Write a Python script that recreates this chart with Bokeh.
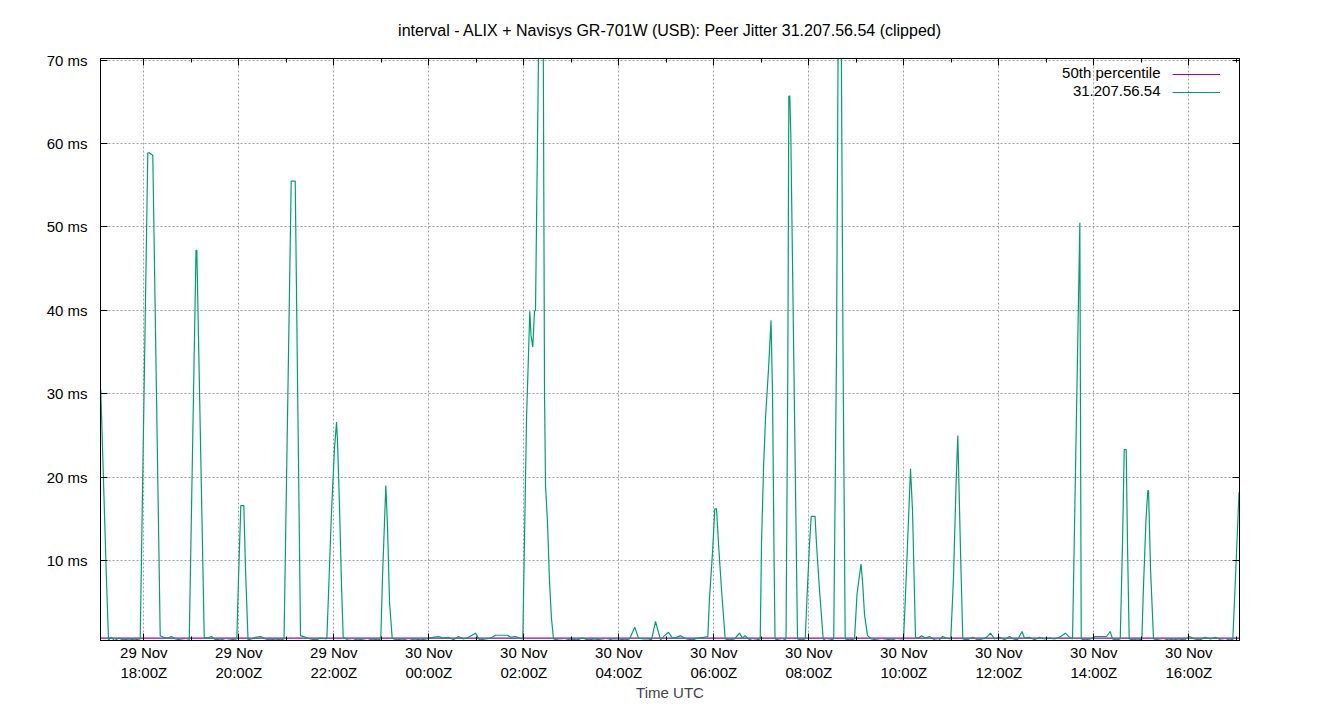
import pandas as pd
from bokeh.plotting import figure
from bokeh.models import (FixedTicker, PrintfTickFormatter, DatetimeTickFormatter,
                          Range1d, Legend, LegendItem, Label, LinearAxis, DatetimeAxis)
from bokeh.embed import file_html
from bokeh.resources import INLINE

# ---------------- data ----------------
base_day = "2019-11-29"          # hours below are counted from 29 Nov 00:00 UTC
window_start_h = 17.088
window_end_h = 41.067

hours = [
    17.093, 17.120, 17.162, 17.215, 17.257, 17.320, 17.383, 17.467, 17.573, 17.678, 17.804, 17.924,
    18.084, 18.114, 18.189, 18.345, 18.415, 18.499, 18.583, 18.667, 18.773, 18.878, 18.956,
    19.099, 19.116, 19.272, 19.341, 19.425, 19.509, 19.615, 19.720, 19.825, 19.958,
    19.994, 20.042, 20.105, 20.141, 20.194, 20.267, 20.352, 20.457, 20.562, 20.667, 20.773, 20.878, 20.952,
    21.103, 21.187, 21.299, 21.404, 21.509, 21.615, 21.720, 21.853,
    21.888, 21.952, 22.015, 22.057, 22.078, 22.120, 22.162, 22.198,
    22.288, 22.394, 22.499, 22.604, 22.709, 22.815, 22.920, 22.989,
    23.025, 23.095, 23.131, 23.173, 23.229,
    23.320, 23.446, 23.573, 23.699, 23.825, 23.952, 24.078, 24.204, 24.310, 24.415, 24.520, 24.625,
    24.731, 24.836, 24.983, 25.067, 25.194, 25.299, 25.404, 25.657, 25.720, 25.825, 25.909, 25.979,
    26.057, 26.126, 26.152, 26.189, 26.225, 26.246, 26.316, 26.408, 26.436, 26.457, 26.499, 26.541,
    26.583, 26.625,
    26.720, 26.857, 26.983, 27.109, 27.236, 27.362, 27.488, 27.615, 27.741, 27.867, 27.994, 28.120,
    28.225, 28.337, 28.415, 28.520, 28.625, 28.688, 28.773, 28.878, 28.962, 29.046, 29.131, 29.215,
    29.299, 29.425, 29.552, 29.657, 29.783, 29.874,
    29.909, 29.973, 30.021, 30.057, 30.099, 30.162, 30.240,
    30.331, 30.436, 30.541, 30.604, 30.657, 30.731, 30.815, 30.899, 30.977,
    31.004, 31.046, 31.088, 31.152, 31.204, 31.236, 31.268, 31.289,
    31.362, 31.446, 31.520,
    31.558, 31.579, 31.600, 31.621, 31.762,
    31.846, 31.924,
    31.973, 32.015, 32.051, 32.131, 32.162, 32.225, 32.303,
    32.373, 32.457, 32.524,
    32.583, 32.619, 32.682, 32.720, 32.766,
    32.857, 32.962,
    33.015, 33.099, 33.131, 33.173, 33.236,
    33.320, 33.425, 33.531, 33.636, 33.741, 33.846, 33.994,
    34.036, 34.141, 34.183, 34.246,
    34.309, 34.373, 34.457, 34.541, 34.646, 34.731, 34.815, 34.899, 34.989,
    35.046, 35.099, 35.137, 35.194, 35.242,
    35.341, 35.446, 35.552, 35.657, 35.741, 35.825, 35.909, 36.015, 36.120, 36.225, 36.309, 36.394,
    36.488, 36.541, 36.646, 36.752, 36.857, 36.962, 37.067, 37.173, 37.278, 37.404, 37.488, 37.552,
    37.706, 37.735,
    37.825, 37.931, 38.029, 38.267, 38.345, 38.394, 38.478, 38.556,
    38.604, 38.640, 38.682, 38.709, 38.745,
    38.836, 38.920, 39.011,
    39.046, 39.099, 39.137, 39.152, 39.194, 39.257,
    39.362, 39.467, 39.573, 39.678, 39.783, 39.910, 40.015, 40.120, 40.225, 40.352, 40.457, 40.562,
    40.667, 40.773, 40.857, 40.926,
    40.983, 41.057,
]

jitter_ms = [
    30.5, 25.5, 17.5, 7.5, 0.5, 0.8, 0.4, 0.7, 0.5, 0.6, 0.5, 0.6,
    58.9, 58.9, 58.6, 1.0, 0.8, 0.7, 0.9, 0.6, 0.5, 0.4, 0.5,
    47.2, 47.2, 0.8, 0.7, 0.9, 0.5, 0.6, 0.4, 0.5, 0.6,
    8.0, 16.6, 16.6, 9.0, 0.5, 0.6, 0.8, 0.9, 0.6, 0.5, 0.6, 0.5, 0.6,
    55.5, 55.5, 1.0, 0.8, 0.6, 0.5, 0.7, 0.6,
    6.0, 16.0, 23.5, 26.6, 24.3, 16.5, 7.0, 0.8,
    0.5, 0.4, 0.6, 0.5, 0.4, 0.6, 0.5, 0.6,
    8.0, 19.0, 14.0, 5.0, 0.7,
    0.5, 0.6, 0.4, 0.6, 0.5, 0.6, 0.8, 0.9, 0.7, 0.8, 0.5, 0.9,
    0.6, 0.8, 1.3, 0.5, 0.6, 0.7, 1.05, 1.05, 0.8, 0.9, 0.7, 0.6,
    27.0, 39.9, 37.0, 35.6, 39.9, 40.0, 74.0, 74.0, 30.0, 19.0, 14.5, 7.5,
    3.0, 0.6,
    0.5, 0.4, 0.6, 0.5, 0.7, 0.5, 0.6, 0.5, 0.4, 0.6, 0.6, 0.5,
    0.6, 2.0, 0.7, 0.6, 0.6, 0.5, 2.7, 0.5, 1.0, 1.4, 0.7, 0.8,
    1.0, 0.6, 0.5, 0.7, 0.8, 0.9,
    5.5, 11.0, 16.2, 16.2, 12.0, 6.5, 0.6,
    0.5, 0.6, 1.3, 0.7, 1.0, 0.6, 0.4, 0.5, 0.6,
    12.0, 21.0, 27.0, 33.0, 38.8, 30.0, 10.5, 0.6,
    0.5, 0.4, 0.6,
    33.0, 65.7, 65.7, 61.0, 0.6,
    0.5, 0.6,
    7.0, 12.0, 15.3, 15.3, 12.0, 6.5, 0.6,
    0.4, 0.5, 0.6,
    35.0, 74.0, 74.0, 35.0, 0.6,
    0.5, 0.6,
    6.0, 9.6, 7.5, 3.5, 1.0,
    0.6, 0.5, 0.4, 0.5, 0.6, 0.4, 0.5,
    6.0, 21.0, 16.0, 0.8,
    0.7, 1.0, 0.7, 0.9, 0.5, 0.4, 0.9, 0.7, 0.6,
    8.0, 19.0, 25.0, 11.0, 0.6,
    0.5, 0.8, 0.5, 0.6, 0.8, 1.3, 0.6, 0.8, 0.5, 0.9, 0.6, 0.5,
    1.5, 0.7, 0.8, 0.5, 0.8, 0.6, 0.7, 0.6, 0.8, 1.3, 0.8, 0.6,
    50.5, 0.6,
    0.5, 0.6, 0.9, 0.9, 1.5, 0.6, 0.5, 0.6,
    12.0, 23.3, 23.3, 12.0, 0.6,
    0.5, 0.6, 0.5,
    7.0, 15.0, 18.4, 18.4, 9.0, 0.6,
    0.5, 0.4, 0.6, 0.5, 0.6, 0.5, 0.9, 0.6, 0.5, 0.8, 0.6, 0.8,
    0.5, 0.4, 0.6, 0.5,
    8.0, 18.2,
]

p50_ms = 0.70
y_min_ms, y_max_ms = 0.42, 70.2
y_ticks_ms = [10, 20, 30, 40, 50, 60, 70]
major_tick_h = [18, 20, 22, 24, 26, 28, 30, 32, 34, 36, 38, 40]
minor_tick_h = [17, 19, 21, 23, 25, 27, 29, 31, 33, 35, 37, 39, 41]

title_text = "interval - ALIX + Navisys GR-701W (USB): Peer Jitter 31.207.56.54 (clipped)"
series_names = ["50th percentile", "31.207.56.54"]
series_colors = ["#9400d3", "#009e73"]

# ---------------- helpers ----------------
base = pd.Timestamp(base_day)


def to_dt(h_list):
    return [base + pd.Timedelta(hours=h) for h in h_list]


def to_ms(h_list):
    return [(base + pd.Timedelta(hours=h)).value / 1e6 for h in h_list]


t = to_dt(hours)
FONT = "Liberation Sans"

p = figure(width=1324, height=704, x_axis_type="datetime",
           x_range=Range1d(*to_ms([window_start_h, window_end_h])),
           y_range=Range1d(y_min_ms, y_max_ms),
           output_backend="svg", toolbar_location=None,
           min_border_left=100, min_border_right=85, min_border_top=58, min_border_bottom=64)

p.title.text = title_text
p.title.align = "center"
p.title.text_font = FONT
p.title.text_font_size = "16px"
p.title.text_font_style = "normal"
p.title.text_color = "#000000"
p.title.standoff = 39

p.outline_line_color = "black"
p.outline_line_width = 1
p.background_fill_color = "white"
p.border_fill_color = "white"

# lines
r_p50 = p.line(to_dt([window_start_h, window_end_h]), [p50_ms, p50_ms],
               line_color=series_colors[0], line_width=1.2)
r_jit = p.line(t, jitter_ms, line_color=series_colors[1], line_width=1.2)

bottom_ax = p.below[0]
left_ax = p.left[0]

# axes
xt = FixedTicker(ticks=to_ms(major_tick_h), minor_ticks=to_ms(minor_tick_h))
yt = FixedTicker(ticks=y_ticks_ms, minor_ticks=[])
bottom_ax.ticker = xt
bottom_ax.formatter = DatetimeTickFormatter(hours="%d %b\n%H:%MZ", days="%d %b\n%H:%MZ",
                                            hourmin="%d %b\n%H:%MZ", minutes="%d %b\n%H:%MZ")
left_ax.ticker = yt
left_ax.formatter = PrintfTickFormatter(format="%d ms")

for ax in (bottom_ax, left_ax):
    ax.major_tick_in = 7
    ax.major_tick_out = 0
    ax.minor_tick_in = 4
    ax.minor_tick_out = 0
    ax.axis_line_color = "black"
    ax.major_tick_line_color = "black"
    ax.minor_tick_line_color = "black"
    ax.major_label_text_font = FONT
    ax.major_label_text_font_size = "15px"
    ax.major_label_text_color = "#000000"
left_ax.major_label_standoff = 13
bottom_ax.major_label_standoff = 3
bottom_ax.axis_label = "Time UTC"
bottom_ax.axis_label_text_font = FONT
bottom_ax.axis_label_text_font_size = "15px"
bottom_ax.axis_label_text_font_style = "normal"
bottom_ax.axis_label_standoff = 0

# mirrored tick marks on the top and right borders (gnuplot style), no labels
top_ax = DatetimeAxis(ticker=xt, major_label_overrides={v: "" for v in to_ms(major_tick_h)})
right_ax = LinearAxis(ticker=yt, major_label_overrides={v: "" for v in y_ticks_ms})
for ax in (top_ax, right_ax):
    ax.major_tick_in = 7
    ax.major_tick_out = 0
    ax.minor_tick_in = 4
    ax.minor_tick_out = 0
    ax.axis_line_color = "black"
    ax.major_tick_line_color = "black"
    ax.minor_tick_line_color = "black"
    ax.major_label_standoff = 0
    ax.major_label_text_font_size = "0px"
p.add_layout(top_ax, "above")
p.add_layout(right_ax, "right")

# grid
p.xgrid.ticker = xt
p.ygrid.ticker = FixedTicker(ticks=y_ticks_ms)
for g in (p.xgrid[0], p.ygrid[0]):
    g.grid_line_color = "#a0a0a0"
    g.grid_line_dash = "2 2"
    g.grid_line_width = 1

# legend: sample lines (gnuplot style: text on the left, line on the right)
legend = Legend(items=[LegendItem(label=" ", renderers=[r_p50]),
                       LegendItem(label=" ", renderers=[r_jit])],
                location=(1072, 539), orientation="vertical",
                glyph_width=48, glyph_height=18, label_width=0, label_height=18,
                label_standoff=0, spacing=0, padding=0, margin=0,
                label_text_font_size="1px",
                border_line_color=None, background_fill_alpha=0)
p.add_layout(legend, "center")

for i, name in enumerate(series_names):
    p.add_layout(Label(x=1060, y=568 - 18 * i, x_units="screen", y_units="screen",
                       text=name, text_align="right", text_baseline="middle",
                       text_font=FONT, text_font_size="15px", text_color="#000000"))

open("out.html", "w").write(file_html(p, INLINE))
